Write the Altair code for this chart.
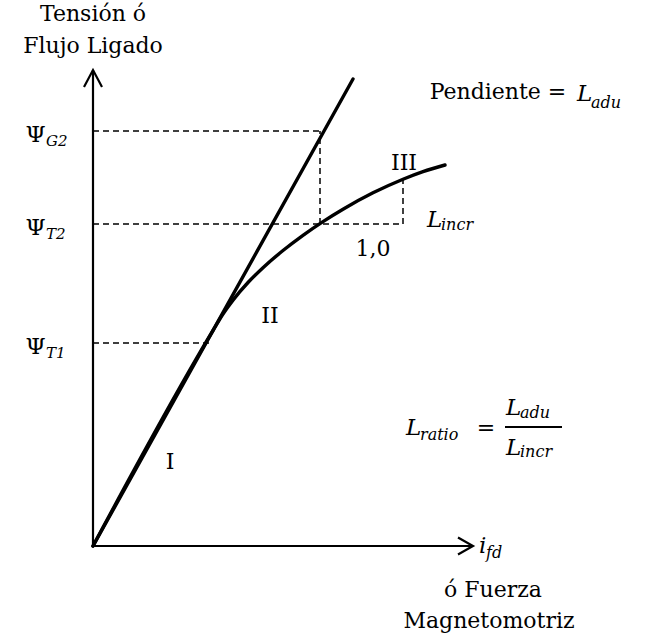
import altair as alt
import pandas as pd

# ---- curve data (schematic units: field current on x, flux linkage on y) ----
AIRGAP_X = [0.0, 2.60]
AIRGAP_Y = [0.0, 4.67]

SAT_X = [0.0, 1.20, 1.30, 1.40, 1.55, 1.70, 1.90, 2.10, 2.30, 2.50, 2.80, 3.10, 3.30, 3.52]
SAT_Y = [0.0, 2.155, 2.32, 2.459, 2.635, 2.783, 2.955, 3.107, 3.244, 3.368, 3.532, 3.668, 3.744, 3.81]

# flux levels marked on the vertical axis
PSI_NAMES = ["G2", "T2", "T1"]
PSI_LEVELS = [4.15, 3.22, 2.03]
PSI_GUIDE_END = [2.29, 3.10, 1.17]

# vertical construction lines (x, y from, y to)
VGUIDE_X = [2.27, 3.10]
VGUIDE_Y0 = [3.22, 3.22]
VGUIDE_Y1 = [4.15, 3.66]

AXIS_X_END = 3.80
AXIS_Y_END = 4.76

FONT = "DejaVu Serif"
XS = alt.Scale(domain=[-0.93, 5.68], nice=False, zero=False)
YS = alt.Scale(domain=[-0.90, 5.46], nice=False, zero=False)


def enc(**kw):
    return dict(x=alt.X("x:Q", scale=XS, axis=None),
                y=alt.Y("y:Q", scale=YS, axis=None), **kw)


def seg_frame(parts):
    rows = []
    for name, xs, ys in parts:
        for k, (x, y) in enumerate(zip(xs, ys)):
            rows.append({"seg": name, "k": k, "x": x, "y": y})
    return pd.DataFrame(rows)


# axes with open arrow heads, plus the fraction bar
axes_df = seg_frame([
    ("yaxis", [0, 0], [0, AXIS_Y_END]),
    ("xaxis", [0, AXIS_X_END], [0, 0]),
    ("yarrow", [-0.09, 0, 0.09], [AXIS_Y_END - 0.17, AXIS_Y_END, AXIS_Y_END - 0.17]),
    ("xarrow", [AXIS_X_END - 0.15, AXIS_X_END, AXIS_X_END - 0.15], [0.085, 0, -0.085]),
    ("fraction", [4.12, 4.69], [1.19, 1.19]),
])
axes = alt.Chart(axes_df).mark_line(color="black", strokeWidth=2.2).encode(
    **enc(detail="seg:N", order="k:Q"))

curves_df = seg_frame([
    ("airgap", AIRGAP_X, AIRGAP_Y),
    ("sat", SAT_X, SAT_Y),
])
curves = alt.Chart(curves_df).mark_line(
    color="black", strokeWidth=3.4, interpolate="monotone", strokeCap="round"
).encode(**enc(detail="seg:N", order="k:Q"))

guide_parts = [(f"h{n}", [0, e], [v, v]) for n, v, e in zip(PSI_NAMES, PSI_LEVELS, PSI_GUIDE_END)]
guide_parts += [(f"v{i}", [x, x], [a, b]) for i, (x, a, b) in enumerate(zip(VGUIDE_X, VGUIDE_Y0, VGUIDE_Y1))]
guides = alt.Chart(seg_frame(guide_parts)).mark_line(
    color="black", strokeWidth=1.5, strokeDash=[6, 4]
).encode(**enc(detail="seg:N", order="k:Q"))


def text_layer(texts, xs, ys, size, style="normal", align="center"):
    df = pd.DataFrame({"t": texts, "x": xs, "y": ys})
    return alt.Chart(df).mark_text(
        font=FONT, fontSize=size, fontStyle=style, align=align,
        baseline="alphabetic", color="black"
    ).encode(**enc(text="t:N"))


# upright labels
PLAIN_TEXT = ["Tensión ó", "Flujo Ligado", "Pendiente =", "III", "II", "I", "1,0",
              "ó Fuerza", "Magnetomotriz", "="]
PLAIN_X = [0.0, 0.0, 4.05, 3.11, 1.77, 0.77, 2.80, 4.00, 3.96, 3.93]
PLAIN_Y = [5.25, 4.93, 4.47, 3.76, 2.23, 0.77, 2.90, -0.51, -0.82, 1.11]

# flux symbols
PSI_X = [-0.575] * 3
PSI_Y = [lvl - 0.11 for lvl in PSI_LEVELS]
PSI_SUB_X = [-0.47] * 3
PSI_SUB_Y = [lvl - 0.15 for lvl in PSI_LEVELS]

# italic inductance / current symbols (left edges)
ITAL_TEXT = ["L", "L", "L", "L", "L", "i"]
ITAL_X = [4.84, 3.34, 3.13, 4.13, 4.13, 3.86]
ITAL_Y = [4.45, 3.19, 1.11, 1.31, 0.91, -0.07]

SUB_TEXT = ["adu", "incr", "ratio", "adu", "incr", "fd"]
SUB_X = [4.98, 3.48, 3.27, 4.27, 4.27, 3.93]
SUB_Y = [4.38, 3.16, 1.06, 1.28, 0.89, -0.12]

layers = [
    guides, axes, curves,
    text_layer(PLAIN_TEXT, PLAIN_X, PLAIN_Y, 22),
    text_layer(["Ψ"] * 3, PSI_X, PSI_Y, 23),
    text_layer(PSI_NAMES, PSI_SUB_X, PSI_SUB_Y, 15, "italic", "left"),
    text_layer(ITAL_TEXT, ITAL_X, ITAL_Y, 23, "italic", "left"),
    text_layer(SUB_TEXT, SUB_X, SUB_Y, 16, "italic", "left"),
]

chart = alt.layer(*layers).properties(
    width=661, height=636, padding=0, autosize="none", background="white"
).configure_view(stroke=None)

chart.save("out.html", embed_options={"renderer": "svg", "actions": False})
